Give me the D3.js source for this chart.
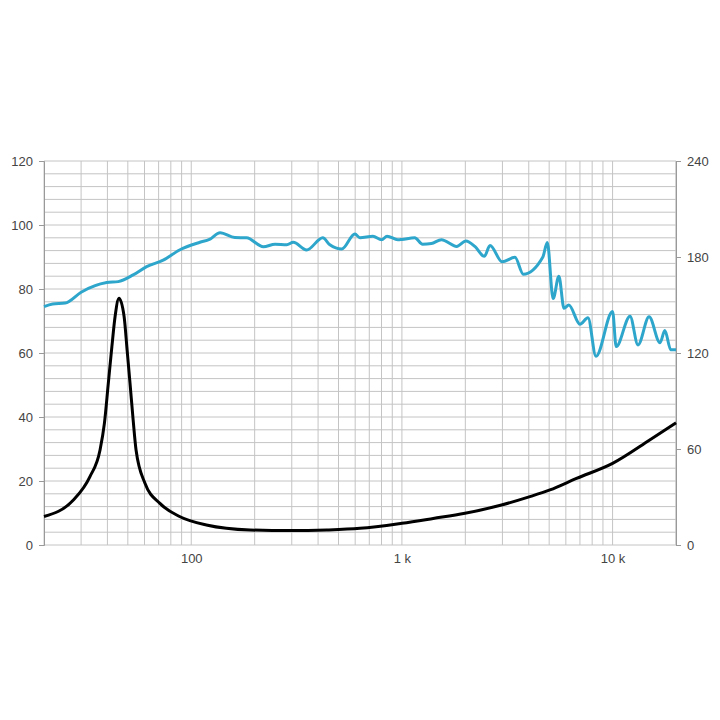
<!DOCTYPE html>
<html><head><meta charset="utf-8">
<script src="https://cdn.jsdelivr.net/npm/d3@7"></script>
<style>body{margin:0;background:#fff}text{font-family:"Liberation Sans",Arial,sans-serif;font-size:13px;fill:#444}</style>
</head><body><div id="chart"></div>
<script>
// SPL curve (Hz, dB)
var splFreq = [20,22,25.2,30,39.7,45,53,61.4,73.6,88,110,122,137,161,183,220,250,284,305,353,421,455,518,598,632,728,801,850,957,1000,1150,1254,1380,1540,1820,2014,2220,2460,2620,2990,3440,3770,4660,4900,5220,5560,5880,6200,7000,7640,8340,10000,10400,12100,13200,14900,16800,17700,18900,20000];
var splDb = [74.5,75.3,75.6,79,82,82.3,84.4,87,89,92.2,94.6,95.5,97.6,96.1,96,93.2,94,93.8,94.6,92.2,96,93.8,92.5,97.2,96,96.5,95.4,96.5,95.4,95.5,96,94,94.2,95.4,93.3,95,93.3,90.2,93.6,88.5,89.9,84.6,89.9,94.5,77,84,74,75,69,71,59,73,62,71.5,62.5,71.3,63.2,67,61,61];
// impedance curve (Hz, plotted on left scale)
var impFreq = [20,27.5,33,36.9,38.7,40.4,42,43.5,45.4,48,49.6,51.2,53,54.7,60.3,71,88,118,190,294,440,632,1000,1408,1992,2970,4050,5040,6740,10000,15000,20000];
var impVal = [8.9,14,21.3,29.7,38,50.6,62,71.4,77.1,71.4,61,50.6,39,29.7,19.3,13,8.9,6.25,4.7,4.5,4.7,5.2,6.8,8.3,9.9,12.5,15.1,17.2,20.8,25.5,32.8,38.2];
var leftTicks = [0,20,40,60,80,100,120];
var rightTicks = [0,60,120,180,240];
var xLabels = [[100,"100"],[1000,"1 k"],[10000,"10 k"]];

var W = 720, H = 720, L = 44, R = 676, T = 161, B = 545;
var svg = d3.select("#chart").append("svg").attr("width", W).attr("height", H);
var x = d3.scaleLog().domain([20, 20000]).range([L, R]);
var y = d3.scaleLinear().domain([0, 120]).range([B, T]);
var y2 = d3.scaleLinear().domain([0, 240]).range([B, T]);

// grid
var vlines = [];
[10,100,1000,10000].forEach(function(d){ for (var k=1;k<10;k++){ var f=d*k; if(f>=20&&f<=20000) vlines.push(f);} });
vlines.push(20000);
svg.selectAll(".vg").data(vlines).enter().append("line")
  .attr("x1", d=>x(d)).attr("x2", d=>x(d)).attr("y1", T).attr("y2", B)
  .attr("stroke", "#c4c4c4").attr("stroke-width", 1);
svg.selectAll(".hg").data(d3.range(0, 121, 4)).enter().append("line")
  .attr("x1", L).attr("x2", R).attr("y1", d=>y(d)).attr("y2", d=>y(d))
  .attr("stroke", "#c4c4c4").attr("stroke-width", 1);

// axes
var la = svg.append("g").attr("transform", "translate(" + L + ",0)")
  .call(d3.axisLeft(y).tickValues(leftTicks).tickSize(5).tickPadding(6));
var ra = svg.append("g").attr("transform", "translate(" + R + ",0)")
  .call(d3.axisRight(y2).tickValues(rightTicks).tickSize(5).tickPadding(6));
var ba = svg.append("g").attr("transform", "translate(0," + B + ")")
  .call(d3.axisBottom(x).tickValues(xLabels.map(d=>d[0])).tickFormat((d,i)=>xLabels[i][1]).tickSize(0).tickPadding(9));
[la, ra, ba].forEach(function(g){
  g.selectAll("path,line").attr("stroke", "#999");
  g.selectAll("text").style("font-size", "13px").attr("fill", "#444");
});
ba.select("path").remove();

var line = d3.line().curve(d3.curveMonotoneX);
svg.append("path")
  .attr("d", line(impFreq.map((f,i)=>[x(f), y(impVal[i])])))
  .attr("fill", "none").attr("stroke", "#000").attr("stroke-width", 3);
svg.append("path")
  .attr("d", line(splFreq.map((f,i)=>[x(f), y(splDb[i])])))
  .attr("fill", "none").attr("stroke", "#2ea6cc").attr("stroke-width", 3);
</script></body></html>
